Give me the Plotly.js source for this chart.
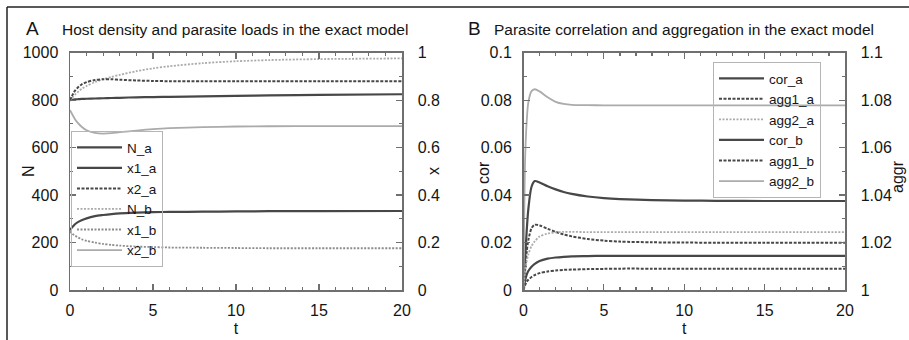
<!DOCTYPE html>
<html>
<head>
<meta charset="utf-8">
<script src="https://cdn.plot.ly/plotly-3.0.1.min.js"></script>
<style>
html,body{margin:0;padding:0;background:#fff;}
#chart{width:909px;height:340px;}
</style>
</head>
<body>
<div id="chart"></div>
<script>
// ---- Data ----
const t = [0, 0.1, 0.2, 0.3, 0.5, 0.7, 1, 1.5, 2, 2.5, 3, 4, 5, 6, 8, 10, 12, 15, 20];

// Panel A: host density N (left axis) and parasite loads x (right axis)
const N_a  = [800, 801, 802, 803, 804, 805, 806, 807, 808, 809, 810, 812, 813, 814, 816, 818, 820, 822, 825];
const x1_a = [0.252, 0.262, 0.270, 0.277, 0.287, 0.294, 0.302, 0.311, 0.316, 0.320, 0.323, 0.326, 0.328, 0.329, 0.330, 0.331, 0.332, 0.332, 0.333];
const x2_a = [0.800, 0.815, 0.828, 0.840, 0.855, 0.866, 0.876, 0.885, 0.888, 0.888, 0.886, 0.883, 0.881, 0.880, 0.880, 0.880, 0.880, 0.880, 0.880];
const N_b  = [800, 808, 816, 823, 836, 847, 860, 876, 888, 898, 907, 922, 934, 943, 956, 964, 969, 973, 976];
const x1_b = [0.247, 0.240, 0.234, 0.229, 0.221, 0.214, 0.207, 0.200, 0.194, 0.190, 0.187, 0.183, 0.181, 0.179, 0.178, 0.177, 0.176, 0.176, 0.176];
const x2_b = [0.758, 0.745, 0.732, 0.720, 0.702, 0.688, 0.673, 0.662, 0.659, 0.661, 0.665, 0.672, 0.678, 0.682, 0.686, 0.689, 0.690, 0.691, 0.691];

// Panel B: parasite correlation cor (left axis) and aggregation aggr (right axis)
const cor_a  = [0, 0.013, 0.025, 0.034, 0.0435, 0.0459, 0.0453, 0.0437, 0.0424, 0.0413, 0.0405, 0.0394, 0.0387, 0.0383, 0.0379, 0.0377, 0.0376, 0.0375, 0.0375];
const agg1_a = [1, 1.008, 1.016, 1.021, 1.026, 1.0275, 1.0272, 1.0258, 1.0245, 1.0234, 1.0226, 1.0215, 1.0208, 1.0204, 1.0201, 1.0200, 1.0199, 1.0199, 1.0199];
const agg2_a = [1, 1.008, 1.012, 1.015, 1.0185, 1.0205, 1.0225, 1.0238, 1.0243, 1.0245, 1.0245, 1.0244, 1.0244, 1.0244, 1.0244, 1.0244, 1.0244, 1.0244, 1.0244];
const cor_b  = [0, 0.004, 0.0065, 0.008, 0.0098, 0.011, 0.0122, 0.0132, 0.0137, 0.0140, 0.0142, 0.0143, 0.0144, 0.0144, 0.0144, 0.0144, 0.0144, 0.0144, 0.0144];
const agg1_b = [1, 1.002, 1.0035, 1.0043, 1.0055, 1.0063, 1.0071, 1.0078, 1.0082, 1.0085, 1.0086, 1.0088, 1.0089, 1.0090, 1.0090, 1.0090, 1.0090, 1.0090, 1.0090];
const agg2_b = [1, 1.055, 1.071, 1.079, 1.0838, 1.0846, 1.0837, 1.0812, 1.0793, 1.0784, 1.0780, 1.0779, 1.0778, 1.0778, 1.0778, 1.0778, 1.0778, 1.0778, 1.0778];

const xTicks = [0, 5, 10, 15, 20];
const titleA = "Host density and parasite loads in the exact model";
const titleB = "Parasite correlation and aggregation in the exact model";

// ---- Styles ----
const W = 909, H = 340;
const px = v => v / W, py = v => 1 - v / H;
const FONT = "Liberation Sans, Arial, Helvetica, sans-serif";
const TXT = "#151515";
const DARK = "#474747", MID = "#8c8c8c", LIGHT = "#ababab";
const AX = "#6f6f6f";

function tr(x, y, name, color, dash, width, xa, ya, leg) {
  return {x: x, y: y, name: name, type: "scatter", mode: "lines",
    line: {color: color, dash: dash, width: width, shape: "spline", smoothing: 0.8},
    xaxis: xa, yaxis: ya, legend: leg, hoverinfo: "skip"};
}

const data = [
  tr(t, N_a,  "N_a",  DARK,  "solid",     2.2, "x",  "y",  "legend"),
  tr(t, x1_a, "x1_a", DARK,  "solid",     2.2, "x",  "y2", "legend"),
  tr(t, x2_a, "x2_a", DARK,  "3px,1.5px", 2,   "x",  "y2", "legend"),
  tr(t, N_b,  "N_b",  LIGHT, "2px,1.5px", 1.8, "x",  "y",  "legend"),
  tr(t, x1_b, "x1_b", MID,   "2px,1.5px", 1.8, "x",  "y2", "legend"),
  tr(t, x2_b, "x2_b", LIGHT, "solid",     1.8, "x",  "y2", "legend"),

  tr(t, cor_a,  "cor_a",  DARK,  "solid",     2.2, "x2", "y3", "legend2"),
  tr(t, agg1_a, "agg1_a", DARK,  "3px,1.5px", 2,   "x2", "y4", "legend2"),
  tr(t, agg2_a, "agg2_a", LIGHT, "2px,1.5px", 1.8, "x2", "y4", "legend2"),
  tr(t, cor_b,  "cor_b",  DARK,  "solid",     2.2, "x2", "y3", "legend2"),
  tr(t, agg1_b, "agg1_b", DARK,  "3px,1.5px", 2,   "x2", "y4", "legend2"),
  tr(t, agg2_b, "agg2_b", LIGHT, "solid",     1.8, "x2", "y4", "legend2")
];

const tickFont = {family: FONT, size: 16, color: TXT};
const yDom = [py(290), py(52.7)];

function xAxis(dom, anchor) {
  return {domain: dom, anchor: anchor, range: [0, 20], tickvals: xTicks,
    ticks: "inside", ticklen: 6, tickwidth: 1.2, tickcolor: AX,
    minor: {dtick: 1, ticks: "inside", ticklen: 3, tickcolor: AX},
    showline: true, linecolor: AX, linewidth: 1.5, mirror: "ticks",
    showgrid: false, zeroline: false, tickfont: tickFont, ticklabelstandoff: 5,
    title: {text: "t", font: {family: FONT, size: 16, color: TXT}, standoff: 5}};
}
function yAxis(anchor, range, dtick, minor, side, overlay) {
  const a = {domain: yDom, anchor: anchor, range: range, dtick: dtick, tick0: range[0],
    ticks: "inside", ticklen: 6, tickwidth: 1.2, tickcolor: AX,
    minor: {dtick: minor, ticks: "inside", ticklen: 3, tickcolor: AX},
    showline: true, linecolor: AX, linewidth: 1.5, side: side,
    showgrid: false, zeroline: false, tickfont: tickFont,
    ticklabelstandoff: side === "left" ? 7 : 11};
  if (overlay) a.overlaying = overlay;
  return a;
}

function ann(text, x, y, size, opts) {
  return Object.assign({text: text, x: px(x), y: py(y), xref: "paper", yref: "paper",
    showarrow: false, xanchor: "left", yanchor: "middle",
    font: {family: FONT, size: size, color: TXT}}, opts || {});
}

const legendStyle = {
  font: {family: FONT, size: 13.5, color: TXT},
  bgcolor: "rgba(0,0,0,0)", bordercolor: "#b5b5b5", borderwidth: 1,
  xanchor: "left", yanchor: "top", itemclick: false, itemdoubleclick: false,
  tracegroupgap: 0, itemwidth: 45
};

const layout = {
  width: W, height: H, margin: {l: 0, r: 0, t: 0, b: 0},
  paper_bgcolor: "#fff", plot_bgcolor: "#fff",
  font: {family: FONT, color: TXT},
  showlegend: true,
  legend: Object.assign({x: px(71), y: py(131)}, legendStyle),
  legend2: Object.assign({x: px(713), y: py(62)}, legendStyle),
  xaxis: xAxis([px(70), px(402)], "y"),
  yaxis: yAxis("x", [0, 1000], 200, 100, "left"),
  yaxis2: yAxis("x", [0, 1], 0.2, 0.1, "right", "y"),
  xaxis2: xAxis([px(523.5), px(845)], "y3"),
  yaxis3: yAxis("x2", [0, 0.1], 0.02, 0.01, "left"),
  yaxis4: yAxis("x2", [1, 1.1], 0.02, 0.01, "right", "y3"),
  annotations: [
    ann("A", 24, 28, 19),
    ann(titleA, 60, 29, 15.5),
    ann("B", 466, 28, 19),
    ann(titleB, 492, 29, 15.5),
    ann("N", 28, 171, 16, {xanchor: "center", textangle: -90}),
    ann("x", 433, 171, 16, {xanchor: "center", textangle: -90}),
    ann("cor", 483, 173, 16, {xanchor: "center", textangle: -90}),
    ann("aggr", 897, 177, 16, {xanchor: "center", textangle: -90})
  ],
  shapes: [
    {type: "line", xref: "paper", yref: "paper", x0: px(7), x1: 1, y0: py(7), y1: py(7),
      line: {color: "#222", width: 1.5}},
    {type: "line", xref: "paper", yref: "paper", x0: px(7), x1: px(7), y0: py(7), y1: 0,
      line: {color: "#222", width: 1.5}}
  ]
};

Plotly.newPlot("chart", data, layout, {staticPlot: true, displayModeBar: false});
</script>
</body>
</html>
